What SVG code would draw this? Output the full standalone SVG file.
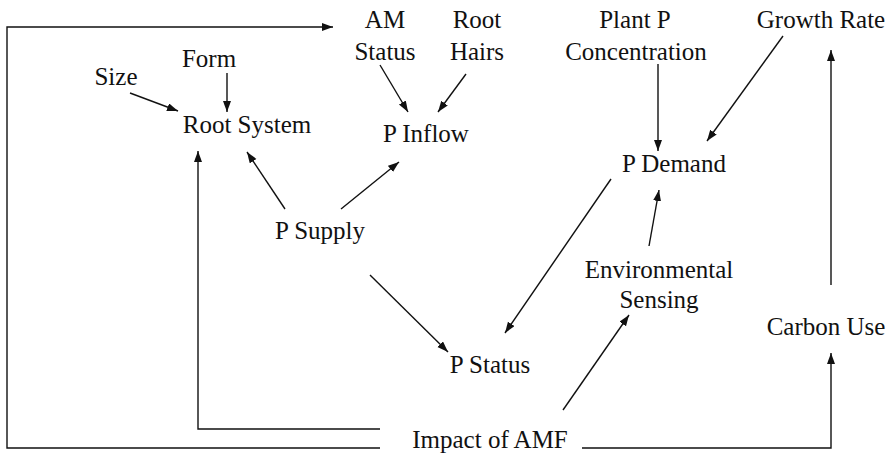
<svg xmlns="http://www.w3.org/2000/svg" width="893" height="456" viewBox="0 0 893 456">
<style>
text{font-family:"Liberation Serif","Times New Roman",serif;font-size:25px;fill:#111;text-anchor:middle}
.c{fill:none;stroke:#111;stroke-width:1.4}
.a{marker-end:url(#ah)}
</style>
<defs>
<marker id="ah" markerWidth="12" markerHeight="10" refX="11" refY="4" orient="auto" markerUnits="userSpaceOnUse">
<path d="M0,0 L11,4 L0,8 Z" fill="#111"/>
</marker>
</defs>
<rect width="893" height="456" fill="#fff"/>
<g id="connectors">
<polyline class="c a" points="380,448 7,448 7,27 333,27"/>
<polyline class="c a" points="380,429 198,429 198,151"/>
<polyline class="c a" points="582,448 831,448 831,353"/>
<line class="c a" x1="831" y1="285" x2="831" y2="50"/>
<line class="c a" x1="130" y1="93" x2="178" y2="111"/>
<line class="c a" x1="227" y1="73" x2="227" y2="112"/>
<line class="c a" x1="380" y1="65" x2="408" y2="112"/>
<line class="c a" x1="466" y1="74" x2="438" y2="112"/>
<line class="c a" x1="285" y1="209" x2="247" y2="152"/>
<line class="c a" x1="341" y1="209" x2="399" y2="162"/>
<line class="c a" x1="658" y1="64" x2="658" y2="151"/>
<line class="c a" x1="783" y1="36" x2="707" y2="141"/>
<line class="c a" x1="611" y1="179" x2="505" y2="333"/>
<line class="c a" x1="649" y1="246" x2="659" y2="190"/>
<line class="c a" x1="370" y1="275" x2="448" y2="352"/>
<line class="c a" x1="563" y1="410" x2="629" y2="315"/>
</g>
<g id="am-status"><text x="385" y="28">AM</text><text x="385" y="60">Status</text></g>
<g id="root-hairs"><text x="477" y="28">Root</text><text x="477" y="60">Hairs</text></g>
<g id="plant-p"><text x="635" y="28">Plant P</text><text x="636" y="60">Concentration</text></g>
<g id="growth-rate"><text x="821" y="28">Growth Rate</text></g>
<g id="form"><text x="209" y="67">Form</text></g>
<g id="size"><text x="116" y="85">Size</text></g>
<g id="root-system"><text x="247" y="133">Root System</text></g>
<g id="p-inflow"><text x="426" y="142">P Inflow</text></g>
<g id="p-demand"><text x="674" y="172">P Demand</text></g>
<g id="p-supply"><text x="320" y="239">P Supply</text></g>
<g id="env-sensing"><text x="659" y="278">Environmental</text><text x="659" y="308">Sensing</text></g>
<g id="carbon-use"><text x="826" y="335">Carbon Use</text></g>
<g id="p-status"><text x="490" y="373">P Status</text></g>
<g id="impact-amf"><text x="490" y="448">Impact of AMF</text></g>
</svg>
